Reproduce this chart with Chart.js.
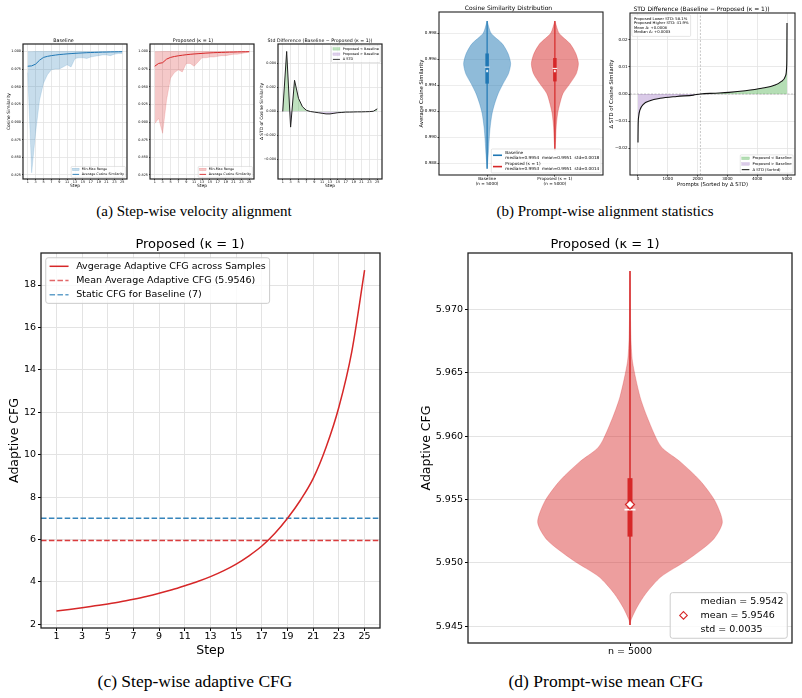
<!DOCTYPE html>
<html><head><meta charset="utf-8">
<script src="https://cdn.jsdelivr.net/npm/chart.js@4.4.1/dist/chart.umd.min.js"></script>
<style>
html,body{margin:0;padding:0;background:#fff}
body{position:relative;width:802px;height:698px;overflow:hidden}
canvas{position:absolute}
.cap{position:absolute;font-family:"Liberation Serif","Times New Roman",serif;color:#000;white-space:nowrap;transform:translate(-50%,-50%);line-height:1}
</style></head><body>
<div class="cap" style="left:194px;top:211px;font-size:15px">(a) Step-wise velocity alignment</div>
<div class="cap" style="left:605px;top:211px;font-size:15px">(b) Prompt-wise alignment statistics</div>
<div class="cap" style="left:195px;top:682px;font-size:17.5px">(c) Step-wise adaptive CFG</div>
<div class="cap" style="left:606px;top:682px;font-size:17.5px">(d) Prompt-wise mean CFG</div>
<script>
// ================= DATA =================
// (a) step-wise cosine similarity
const steps = [1,2,3,4,5,6,7,8,9,10,11,12,13,14,15,16,17,18,19,20,21,22,23,24,25];
const stepTicks = [1,3,5,7,9,11,13,15,17,19,21,23,25];
const cosTicks = [0.825,0.850,0.875,0.900,0.925,0.950,0.975,1.000];
const baseAvg = [0.9790,0.9795,0.9820,0.9875,0.9915,0.9930,0.9940,0.9948,0.9955,0.9960,0.9965,0.9969,0.9973,0.9976,0.9979,0.9982,0.9984,0.9986,0.9988,0.9990,0.9991,0.9993,0.9994,0.9995,0.9996];
const baseMin = [0.9700,0.8280,0.8850,0.9310,0.9550,0.9670,0.9740,0.9750,0.9750,0.9780,0.9810,0.9780,0.9900,0.9910,0.9910,0.9900,0.9920,0.9930,0.9940,0.9950,0.9950,0.9940,0.9960,0.9970,0.9970];
const baseMax = [0.9995,0.9997,0.9998,0.9998,0.9998,0.9999,0.9999,0.9999,0.9999,0.9999,0.9999,0.9999,0.9999,0.9999,0.9999,0.9999,0.9999,0.9999,0.9999,0.9999,0.9999,0.9999,0.9999,0.9999,0.9999];
const propAvg = [0.9790,0.9830,0.9840,0.9890,0.9915,0.9928,0.9938,0.9946,0.9953,0.9959,0.9964,0.9968,0.9972,0.9976,0.9979,0.9982,0.9984,0.9986,0.9988,0.9990,0.9991,0.9993,0.9994,0.9995,0.9996];
const propMin = [0.8980,0.9050,0.8840,0.9310,0.9620,0.9700,0.9740,0.9710,0.9830,0.9830,0.9790,0.9850,0.9910,0.9910,0.9920,0.9920,0.9930,0.9940,0.9940,0.9950,0.9960,0.9960,0.9970,0.9980,0.9990];
const propMax = [0.9995,0.9997,0.9998,0.9998,0.9998,0.9999,0.9999,0.9999,0.9999,0.9999,0.9999,0.9999,0.9999,0.9999,0.9999,0.9999,0.9999,0.9999,0.9999,0.9999,0.9999,0.9999,0.9999,0.9999,0.9999];
const stdDelta = [0.0000,0.0050,-0.0013,0.0026,0.0011,0.0004,0.0001,0.0000,-0.00005,-0.0001,-0.00015,-0.0002,-0.0002,-0.00015,-0.0001,-0.00008,-0.00005,-0.00005,-0.00004,-0.00003,-0.00003,-0.00002,-0.00001,0.00002,0.00022];
const stdTicks = [-0.004,-0.002,0.000,0.002,0.004];

// (b) prompt-wise distributions
const violinLabels = [['Baseline','(n = 5000)'],['Proposed (\u03BA = 1)','(n = 5000)']];
const cosViolinTicks = [0.988,0.990,0.992,0.994,0.996,0.998];
const baseCosGrid = [0.98759,0.98874,0.98977,0.99079,0.99182,0.99259,0.99336,0.99413,0.99490,0.99567,0.99644,0.99721,0.99800,0.99895];
const baseCosDens = [0,0.05,0.085,0.13,0.21,0.32,0.47,0.68,0.91,1.0,0.89,0.64,0.17,0];
const propCosGrid = [0.98900,0.98977,0.99079,0.99182,0.99259,0.99336,0.99413,0.99490,0.99567,0.99644,0.99721,0.99800,0.99895];
const propCosDens = [0,0.03,0.055,0.115,0.21,0.34,0.64,0.91,1.0,0.89,0.64,0.18,0];
// [min, q1, median, mean, q3, max]
const baseCosStats = [0.98759,0.99413,0.9954,0.9951,0.99645,0.99895];
const propCosStats = [0.98900,0.99430,0.9953,0.9951,0.99610,0.99895];
const sortedIdx   = [0,5,22,67,180,400,740,1300,1860,2095,2600,3050,3600,4150,4600,4800,4950,4985,4995,5000];
const sortedDelta = [-0.0180,-0.0120,-0.0084,-0.0059,-0.0038,-0.0025,-0.0016,-0.0009,-0.0004,0.0000,0.0003,0.0006,0.0012,0.0021,0.0033,0.0046,0.0067,0.0095,0.0140,0.0263];
const crossIdx = 2095;
const promptTicks = [0,1000,2000,3000,4000,5000];
const deltaTicks = [-0.02,-0.01,0.00,0.01,0.02];
const statLines = ['Proposed Lower STD: 58.1%','Proposed Higher STD: 41.9%','Mean \u0394: +0.0008','Median \u0394: +0.0003'];

// (c) step-wise adaptive CFG
const cfgStep = [2.63,2.70,2.78,2.87,2.96,3.06,3.18,3.31,3.46,3.63,3.82,4.02,4.25,4.52,4.84,5.23,5.69,6.28,7.00,7.85,8.88,10.35,12.25,14.85,18.70];
const cfgMean = 5.9546;
const cfgStatic = 7;
const cfgTicks = [2,4,6,8,10,12,14,16,18];

// (d) prompt-wise mean CFG
const cfgViolinTicks = [5.945,5.950,5.955,5.960,5.965,5.970];
const cfgGrid = [5.9451,5.9455,5.9465,5.9476,5.9489,5.9502,5.9518,5.9532,5.9549,5.9565,5.9580,5.9590,5.9597,5.96153,5.96311,5.96587,5.9680,5.9730];
const cfgDens = [0,0.011,0.076,0.173,0.335,0.616,0.897,1.0,0.919,0.757,0.54,0.357,0.292,0.184,0.108,0.027,0.009,0];
const cfgStats = [5.9451,5.95207,5.9542,5.9546,5.95668,5.97302];
const cfgStd = 0.0035;

// ================= HELPERS =================
const FONT = '"DejaVu Sans", sans-serif';
Chart.defaults.font.family = FONT;
Chart.defaults.color = '#000';
Chart.defaults.elements.point.radius = 0;
Chart.defaults.elements.point.hoverRadius = 0;
const BLUE='#1f77b4', RED='#d62728';
const xy = (xs, ys) => xs.map((x,i)=>({x, y: ys[i]}));
const minus = s => s.replace('-', '\u2212');
const fmt = d => v => minus(v.toFixed(d));

function violinShape(c, grid, dens, scale){
  const right = grid.map((v,i)=>({x:c+dens[i]*scale, y:v}));
  const left = grid.map((v,i)=>({x:c-dens[i]*scale, y:v})).reverse();
  return right.concat(left);
}

function framePlugin(f){ f=f||{}; return {id:'frame', afterDatasetsDraw(chart){
  const {ctx, chartArea:a} = chart; ctx.save();
  ctx.strokeStyle=f.color||'#222'; ctx.lineWidth=f.width||1;
  ctx.strokeRect(a.left,a.top,a.right-a.left,a.bottom-a.top); ctx.restore(); }}; }

function drawHandle(ctx,it,x,y,hl,f){
  if(!it.kind||it.kind==='none') return;
  ctx.save();
  if(it.kind==='line'){
    ctx.strokeStyle=it.color; ctx.lineWidth=it.width||1; ctx.setLineDash(it.dash||[]);
    ctx.beginPath(); ctx.moveTo(x,y); ctx.lineTo(x+hl,y); ctx.stroke();
  } else if(it.kind==='patch'){
    ctx.fillStyle=it.fill; ctx.fillRect(x,y-0.35*f,hl,0.7*f);
    if(it.edge){ctx.strokeStyle=it.edge; ctx.lineWidth=it.width||0.5; ctx.strokeRect(x,y-0.35*f,hl,0.7*f);}
  } else if(it.kind==='diamond'){
    const r=it.r||0.4*f, cx=x+hl/2;
    ctx.beginPath(); ctx.moveTo(cx,y-r); ctx.lineTo(cx+r,y); ctx.lineTo(cx,y+r); ctx.lineTo(cx-r,y); ctx.closePath();
    ctx.fillStyle=it.fill||'#fff'; ctx.fill(); ctx.strokeStyle=it.color; ctx.lineWidth=it.width||1; ctx.stroke();
  }
  ctx.restore();
}
function drawBox(ctx,a,L){
  const f=L.size;
  const hl=L.handleLen??2*f, hp=L.handlePad??(hl?0.8*f:0);
  const pad=L.pad??0.4*f, gap=L.rowGap??0.5*f, lg=L.lineGap??1.2*f, ax=L.axPad??0.5*f;
  ctx.save();
  ctx.font=`${f}px ${FONT}`;
  const rows=L.items.map(it=>{const lines=Array.isArray(it.text)?it.text:[it.text];
    return {it,lines,w:Math.max(...lines.map(s=>ctx.measureText(s).width)),h:f+(lines.length-1)*lg};});
  const tw=Math.max(...rows.map(r=>r.w));
  const W=2*pad+hl+hp+tw, H=2*pad+rows.reduce((s,r)=>s+r.h,0)+gap*(rows.length-1);
  const x=L.corner[1]==='l'?a.left+ax:a.right-ax-W;
  const y=L.corner[0]==='u'?a.top+ax:a.bottom-ax-H;
  const r=L.radius??0.25*f;
  ctx.beginPath();
  ctx.moveTo(x+r,y); ctx.arcTo(x+W,y,x+W,y+H,r); ctx.arcTo(x+W,y+H,x,y+H,r); ctx.arcTo(x,y+H,x,y,r); ctx.arcTo(x,y,x+W,y,r); ctx.closePath();
  ctx.fillStyle=L.bg||'rgba(255,255,255,0.8)'; ctx.fill();
  ctx.lineWidth=L.edgeWidth??1; ctx.strokeStyle=L.edge||'#cccccc'; ctx.stroke();
  let cy=y+pad;
  ctx.textBaseline='middle'; ctx.textAlign='left';
  for(const row of rows){
    drawHandle(ctx,row.it,x+pad,cy+row.h/2,hl,f);
    ctx.fillStyle='#000';
    row.lines.forEach((s,j)=>ctx.fillText(s,x+pad+hl+hp,cy+f/2+j*lg));
    cy+=row.h+gap;
  }
  ctx.restore();
}
function boxesPlugin(list){ return {id:'boxes', afterDraw(chart){ for(const L of list) drawBox(chart.ctx, chart.chartArea, L); }}; }

function axis(pos,size,o,ca){
  const t={
    type:'linear', position:pos, min:o.min, max:o.max,
    afterBuildTicks:s=>{s.ticks=o.ticks.map(v=>({value:v}));},
    afterFit:s=>{ if(pos==='left') s.width=size; else s.height=size; },
    ticks:{autoSkip:false,maxRotation:0,minRotation:0,color:'#000',font:{family:FONT,size:o.fs},padding:o.pad??1,callback:o.fmt},
    grid:{display:true,drawOnChartArea:!!o.grid,color:o.gridColor||'#e3e3e3',lineWidth:o.gw??0.8,drawTicks:true,tickLength:o.tl??2,tickColor:'#000',tickWidth:o.tw??0.8},
    border:{display:false}
  };
  if(o.title){
    const tf=o.title.size;
    const padding = pos==='left' ? {top:o.title.pos-(ca.l-size)-0.6*tf,bottom:0} : {top:0,bottom:(ca.b+size)-o.title.pos-0.6*tf};
    t.title={display:true,text:o.title.text,color:'#000',font:{family:FONT,size:tf,lineHeight:1.2},padding};
  }
  return t;
}
function makeChart(ca,m,cfg){
  const c=document.createElement('canvas');
  const w=ca.r-ca.l+m.l+m.r, h=ca.b-ca.t+m.t+m.b;
  c.width=w; c.height=h;
  Object.assign(c.style,{left:(ca.l-m.l)+'px',top:(ca.t-m.t)+'px',width:w+'px',height:h+'px'});
  document.body.appendChild(c);
  const ds=cfg.datasets; ds.forEach((d,i)=>{d.order=ds.length-i; if(d.showLine===undefined) d.showLine=true;});
  const tt=cfg.title, padTop=tt.yc-(ca.t-m.t)-0.6*tt.size;
  return new Chart(c,{
    type:'scatter', data:{datasets:ds},
    options:{responsive:false,animation:false,devicePixelRatio:1,events:[],
      layout:{padding:{left:0,top:0,bottom:0,right:m.r}},
      plugins:{legend:{display:false},tooltip:{enabled:false},
        title:{display:true,text:tt.text,color:'#000',font:{family:FONT,size:tt.size,weight:'normal',lineHeight:1.2},
          padding:{top:padTop,bottom:Math.max(0,m.t-padTop-1.2*tt.size)}}},
      scales:{x:axis('bottom',m.b,cfg.x,ca),y:axis('left',m.l,cfg.y,ca)}},
    plugins:[framePlugin(cfg.frame),boxesPlugin(cfg.boxes||[])]
  });
}

// ================= (a) =================
const smallX = {min:-0.2,max:26.2,ticks:stepTicks,fs:3.4,pad:0,tl:1,grid:true,fmt:v=>String(v),title:{text:'Step',size:4.4,pos:186}};
makeChart({l:23,t:44,r:127,b:179},{l:23,t:12,r:3,b:13},{
  title:{text:'Baseline',size:4.8,yc:41},
  x:smallX,
  y:{min:0.8193,max:1.0105,ticks:cosTicks,fs:3.4,pad:1,tl:1,grid:true,fmt:fmt(3),title:{text:'Cosine Similarity',size:4.4,pos:9}},
  frame:{color:'#222',width:1.2},
  datasets:[
    {data:xy(steps,baseMin),borderColor:'rgba(31,119,180,0.3)',borderWidth:0.5,fill:false},
    {data:xy(steps,baseMax),borderColor:'rgba(31,119,180,0.3)',borderWidth:0.5,fill:'-1',backgroundColor:'rgba(31,119,180,0.25)'},
    {data:xy(steps,baseAvg),borderColor:BLUE,borderWidth:1}
  ],
  boxes:[{corner:'lr',size:3.3,edgeWidth:0.5,items:[
    {text:'Min-Max Range',kind:'patch',fill:'rgba(31,119,180,0.25)',edge:'rgba(31,119,180,0.4)',width:0.4},
    {text:'Average Cosine Similarity',kind:'line',color:BLUE,width:0.9}]}]
});
makeChart({l:150,t:44,r:254,b:179},{l:18,t:12,r:3,b:13},{
  title:{text:'Proposed (\u03BA = 1)',size:4.8,yc:41},
  x:smallX,
  y:{min:0.8193,max:1.0105,ticks:cosTicks,fs:3.4,pad:1,tl:1,grid:true,fmt:fmt(3)},
  frame:{color:'#222',width:1.2},
  datasets:[
    {data:xy(steps,propMin),borderColor:'rgba(214,39,40,0.3)',borderWidth:0.5,fill:false},
    {data:xy(steps,propMax),borderColor:'rgba(214,39,40,0.3)',borderWidth:0.5,fill:'-1',backgroundColor:'rgba(214,39,40,0.25)'},
    {data:xy(steps,propAvg),borderColor:RED,borderWidth:1}
  ],
  boxes:[{corner:'lr',size:3.3,edgeWidth:0.5,items:[
    {text:'Min-Max Range',kind:'patch',fill:'rgba(214,39,40,0.25)',edge:'rgba(214,39,40,0.4)',width:0.4},
    {text:'Average Cosine Similarity',kind:'line',color:RED,width:0.9}]}]
});
makeChart({l:278,t:44,r:382,b:179},{l:20,t:12,r:3,b:13},{
  title:{text:'Std Difference (Baseline \u2212 Proposed (\u03BA = 1))',size:4.7,yc:41},
  x:smallX,
  y:{min:-0.00562,max:0.00562,ticks:stdTicks,fs:3.4,pad:1,tl:1,grid:true,fmt:fmt(3),title:{text:'\u0394 STD of Cosine Similarity',size:4.4,pos:262}},
  frame:{color:'#222',width:1.2},
  datasets:[
    {data:xy(steps,stdDelta),borderColor:'#222',borderWidth:1,fill:{target:'origin',above:'rgba(44,160,44,0.3)',below:'rgba(148,103,189,0.3)'}}
  ],
  boxes:[{corner:'ur',size:3.5,edgeWidth:0.5,items:[
    {text:'Proposed < Baseline',kind:'patch',fill:'rgba(44,160,44,0.3)',edge:'rgba(44,160,44,0.4)',width:0.4},
    {text:'Proposed > Baseline',kind:'patch',fill:'rgba(148,103,189,0.3)',edge:'rgba(148,103,189,0.4)',width:0.4},
    {text:'\u0394 STD',kind:'line',color:'#222',width:0.9}]}]
});

// ================= (b) =================
const vScaleB = 0.347;
function violinSets(c, grid, dens, st, col, fillCol, wScale, iqrW, medHalf, meanStyle){
  return [
    {data:violinShape(c,grid,dens,wScale),fill:'shape',tension:0.25,backgroundColor:fillCol,borderColor:fillCol,borderWidth:0.6},
    {data:[{x:c,y:st[0]},{x:c,y:st[5]}],borderColor:col,borderWidth:iqrW[0]},
    {data:[{x:c,y:st[1]},{x:c,y:st[4]}],borderColor:col,borderWidth:iqrW[1]},
    {data:[{x:c-medHalf,y:st[2]},{x:c+medHalf,y:st[2]}],borderColor:'#fff',borderWidth:iqrW[2]},
    {data:[{x:c,y:st[3]}],showLine:false,pointRadius:meanStyle.r,pointStyle:meanStyle.style,pointBackgroundColor:'#fff',pointBorderColor:meanStyle.edge,pointBorderWidth:meanStyle.w}
  ];
}
makeChart({l:439,t:12,r:603,b:175},{l:25,t:12,r:5,b:14},{
  title:{text:'Cosine Similarity Distribution',size:6,yc:8.4},
  x:{min:-0.71,max:1.71,ticks:[0,1],fs:4.2,pad:0,tl:1.5,grid:false,fmt:v=>violinLabels[v]},
  y:{min:0.98710,max:0.99964,ticks:cosViolinTicks,fs:4.1,pad:1,tl:1.5,grid:true,gridColor:'#e8e8e8',fmt:fmt(3),title:{text:'Average Cosine Similarity',size:5.3,pos:421.3}},
  frame:{color:'#222',width:1.1},
  datasets:[
    ...violinSets(0,baseCosGrid,baseCosDens,baseCosStats,BLUE,'rgba(31,119,180,0.5)',vScaleB,[1.2,3.5,1],0.035,{r:1.5,style:'circle',edge:BLUE,w:0.6}),
    ...violinSets(1,propCosGrid,propCosDens,propCosStats,RED,'rgba(214,39,40,0.5)',vScaleB,[1.2,3.5,1],0.035,{r:1.5,style:'circle',edge:RED,w:0.6})
  ],
  boxes:[{corner:'lr',size:4.2,edgeWidth:0.5,handleLen:9,items:[
    {text:['Baseline','median=0.9954  mean=0.9951  std=0.0018'],kind:'line',color:BLUE,width:1.6},
    {text:['Proposed (\u03BA = 1)','median=0.9953  mean=0.9951  std=0.0014'],kind:'line',color:RED,width:1.6}]}]
});
makeChart({l:630,t:13,r:795,b:175},{l:22,t:13,r:5,b:14},{
  title:{text:'STD Difference (Baseline \u2212 Proposed (\u03BA = 1))',size:6,yc:9},
  x:{min:-268,max:5268,ticks:promptTicks,fs:4.1,pad:0,tl:1.5,grid:true,fmt:v=>String(v),title:{text:'Prompts (Sorted by \u0394 STD)',size:5.3,pos:184.3}},
  y:{min:-0.03,max:0.03,ticks:deltaTicks,fs:4.1,pad:1,tl:1.5,grid:true,fmt:fmt(2),title:{text:'\u0394 STD of Cosine Similarity',size:5.3,pos:611.7}},
  frame:{color:'#222',width:1.1},
  datasets:[
    {data:[{x:-268,y:0},{x:5268,y:0}],borderColor:'rgba(120,120,120,0.7)',borderWidth:0.6,borderDash:[2,1.5]},
    {data:[{x:crossIdx,y:-0.03},{x:crossIdx,y:0.03}],borderColor:'rgba(120,120,120,0.7)',borderWidth:0.6,borderDash:[2,1.5]},
    {data:xy(sortedIdx,sortedDelta),cubicInterpolationMode:'monotone',borderColor:'#111',borderWidth:1.1,
      fill:{target:'origin',above:'rgba(44,160,44,0.35)',below:'rgba(148,103,189,0.35)'}}
  ],
  boxes:[
    {corner:'ul',size:3.8,edgeWidth:0.5,handleLen:0,handlePad:0,rowGap:0.2*3.8,pad:2,items:statLines.map(s=>({text:s,kind:'none'}))},
    {corner:'lr',size:3.8,edgeWidth:0.5,items:[
    {text:'Proposed < Baseline',kind:'patch',fill:'rgba(44,160,44,0.35)',edge:'rgba(44,160,44,0.4)',width:0.4},
    {text:'Proposed > Baseline',kind:'patch',fill:'rgba(148,103,189,0.35)',edge:'rgba(148,103,189,0.4)',width:0.4},
    {text:'\u0394 STD (Sorted)',kind:'line',color:'#111',width:1}]}]
});

// ================= (c) =================
makeChart({l:41,t:253,r:380,b:628},{l:41,t:18,r:10,b:32},{
  title:{text:'Proposed (\u03BA = 1)',size:13,yc:245},
  x:{min:-0.2,max:26.2,ticks:stepTicks,fs:9.5,pad:0,tl:3,tw:1,grid:true,gw:1,fmt:v=>String(v),title:{text:'Step',size:12.5,pos:650.7}},
  y:{min:1.825,max:19.51,ticks:cfgTicks,fs:9.5,pad:2,tl:3,tw:1,grid:true,gw:1,fmt:v=>String(v),title:{text:'Adaptive CFG',size:12.5,pos:15}},
  frame:{color:'#222',width:1.3},
  datasets:[
    {data:[{x:-0.2,y:cfgStatic},{x:26.2,y:cfgStatic}],borderColor:'rgba(31,119,180,0.9)',borderWidth:1.4,borderDash:[5.5,2.4]},
    {data:[{x:-0.2,y:cfgMean},{x:26.2,y:cfgMean}],borderColor:'rgba(214,39,40,0.9)',borderWidth:1.4,borderDash:[5.5,2.4]},
    {data:xy(steps,cfgStep),cubicInterpolationMode:'monotone',borderColor:RED,borderWidth:1.5}
  ],
  boxes:[{corner:'ul',size:9.5,edgeWidth:1,items:[
    {text:'Avgerage Adaptive CFG across Samples',kind:'line',color:RED,width:1.5},
    {text:'Mean Average Adaptive CFG ('+cfgMean.toFixed(4)+')',kind:'line',color:'rgba(214,39,40,0.7)',width:1.5,dash:[5.5,2.4]},
    {text:'Static CFG for Baseline ('+cfgStatic+')',kind:'line',color:'rgba(31,119,180,0.7)',width:1.5,dash:[5.5,2.4]}]}]
});

// ================= (d) =================
makeChart({l:468,t:253,r:792,b:643},{l:50,t:18,r:8,b:17},{
  title:{text:'Proposed (\u03BA = 1)',size:13,yc:245},
  x:{min:-1,max:1,ticks:[0],fs:9.5,pad:0,tl:3,tw:1,grid:false,fmt:()=>'n = 5000'},
  y:{min:5.94368,max:5.97444,ticks:cfgViolinTicks,fs:9.5,pad:2,tl:3,tw:1,grid:true,gw:1,fmt:fmt(3),title:{text:'Adaptive CFG',size:12.5,pos:426.7}},
  frame:{color:'#222',width:1.3},
  datasets:[
    ...violinSets(0,cfgGrid,cfgDens,cfgStats,RED,'rgba(214,39,40,0.45)',0.57,[1.5,5,1.8],0.034,{r:4.5,style:'rectRot',edge:RED,w:1.2})
  ],
  boxes:[{corner:'lr',size:9.5,edgeWidth:1,items:[
    {text:'median = '+cfgStats[2].toFixed(4),kind:'none'},
    {text:'mean = '+cfgStats[3].toFixed(4),kind:'diamond',color:RED,fill:'#fff',r:3.8,width:1.1},
    {text:'std = '+cfgStd.toFixed(4),kind:'none'}]}]
});
</script>
</body></html>
